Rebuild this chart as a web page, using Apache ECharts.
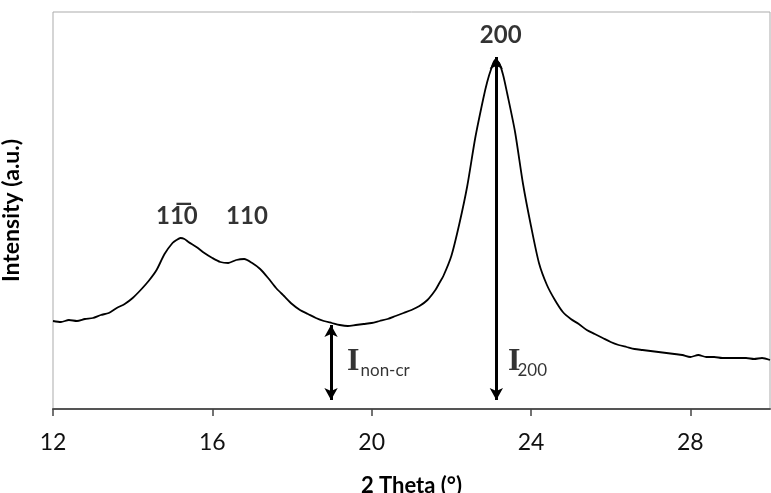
<!DOCTYPE html>
<html>
<head>
<meta charset="utf-8">
<script src="https://cdn.jsdelivr.net/npm/echarts@6/dist/echarts.min.js"></script>
<style>
html,body{margin:0;padding:0;background:#fff;}
#chart{width:771px;height:493px;}
</style>
</head>
<body>
<div id="chart"></div>
<script>
// ---- data ----
var theta = [12.0,12.2,12.4,12.6,12.8,13.0,13.2,13.4,13.6,13.8,14.0,14.2,14.4,14.6,14.8,15.0,15.1,15.2,15.3,15.4,15.6,15.8,16.0,16.2,16.4,16.6,16.8,17.0,17.2,17.4,17.6,17.8,18.0,18.2,18.4,18.6,18.8,19.0,19.2,19.4,19.6,19.8,20.0,20.2,20.4,20.6,20.8,21.0,21.2,21.4,21.6,21.7,21.8,22.0,22.2,22.4,22.6,22.8,22.9,23.0,23.1,23.2,23.3,23.4,23.6,23.8,24.0,24.2,24.4,24.6,24.8,25.0,25.2,25.4,25.6,25.8,26.0,26.2,26.4,26.6,26.8,27.0,27.2,27.4,27.6,27.8,28.0,28.2,28.4,28.6,28.8,29.0,29.2,29.4,29.6,29.8,30.0];
var intensity = [88,87,89,88,90,91,94,96,101,105,111,119,128,139,155,166,169,171,170,167,162,156,151,147,146,149,150,146,140,131,121,113,105,99,95,91,88,86,84,83,84,85,86,88,90,93,96,99,103,109,119,126,133,153,185,223,271,310,327,340,349,346,334,316,277,225,183,146,124,109,97,90,85,79,75,71,67,64,62,60,59,58,57,56,55,54,52,54,52,52,51,51,51,51,50,51,49];

var xMin = 12, xMax = 30, xStep = 4;
var yMin = 0, yMax = 397;

// reflection labels
var peakText = ['11\u03050', '110', '200'];
var peakX = [15.11, 16.87, 23.24];
var peakY = [193, 193, 374];

// arrows: [x, yTop, yBottom]
var arrowNonCr = [18.98, 84, 9];
var arrow200 = [23.13, 352, 9];

// intensity labels
var symText = ['I', 'I'];
var symX = [19.38, 23.42];
var symY = [47.5, 47.5];
var subText = ['non-cr', '200'];
var subX = [19.72, 23.66];
var subY = [38, 38];

var SANS = 'Lato, "Liberation Sans", sans-serif';
var SERIF = '"Liberation Serif", "DejaVu Serif", serif';

var lineData = theta.map(function (t, i) { return [t, intensity[i]]; });
var peakData = peakText.map(function (s, i) { return { value: [peakX[i], peakY[i]], name: s }; });
var symData = symText.map(function (s, i) { return { value: [symX[i], symY[i]], name: s }; });
var subData = subText.map(function (s, i) { return { value: [subX[i], subY[i]], name: s }; });

var chart = echarts.init(document.getElementById('chart'), null, { renderer: 'canvas' });
chart.setOption({
  animation: false,
  backgroundColor: '#ffffff',
  grid: { left: 53, right: 1, top: 12, bottom: 84, show: true, borderColor: '#ababab', borderWidth: 1, containLabel: false, outerBoundsMode: 'none' },
  xAxis: {
    type: 'value', min: xMin, max: xMax, interval: xStep,
    name: '2 Theta (°)', nameLocation: 'middle', nameGap: 66,
    nameTextStyle: { fontFamily: SANS, fontWeight: 'bold', fontSize: 22, color: '#000000' },
    axisLine: { show: true, lineStyle: { color: '#555555', width: 2 } },
    axisTick: { show: true, length: 7, lineStyle: { color: '#444444', width: 1.5 } },
    axisLabel: { margin: 22, fontFamily: SANS, fontSize: 23, color: '#111111', showMaxLabel: false },
    splitLine: { show: false }
  },
  yAxis: {
    type: 'value', min: yMin, max: yMax,
    name: 'Intensity (a.u.)', nameLocation: 'middle', nameGap: 30,
    nameTextStyle: { fontFamily: SANS, fontWeight: 'bold', fontSize: 23, color: '#000000' },
    axisLine: { show: false }, axisTick: { show: false }, axisLabel: { show: false }, splitLine: { show: false }
  },
  series: [
    {
      type: 'line', data: lineData, showSymbol: false, symbol: 'none', smooth: 0.25,
      lineStyle: { color: '#000000', width: 1.8 },
      z: 3,
      markLine: {
        silent: true, animation: false,
        symbol: ['arrow', 'arrow'], symbolSize: [10, 12],
        label: { show: false },
        lineStyle: { color: '#000000', width: 3, type: 'solid' },
        data: [
          [{ coord: [arrowNonCr[0], arrowNonCr[1]] }, { coord: [arrowNonCr[0], arrowNonCr[2]] }],
          [{ coord: [arrow200[0], arrow200[1]] }, { coord: [arrow200[0], arrow200[2]] }]
        ]
      }
    },
    {
      type: 'scatter', data: peakData, symbolSize: 0, silent: true,
      label: { show: true, position: 'inside', formatter: '{b}', fontFamily: SANS, fontWeight: 'bold', fontSize: 24, color: '#000000', align: 'center', verticalAlign: 'middle' }
    },
    {
      type: 'scatter', data: symData, symbolSize: 0, silent: true,
      label: { show: true, position: 'inside', formatter: '{b}', fontFamily: SERIF, fontWeight: 'bold', fontSize: 32, color: '#000000', align: 'left', verticalAlign: 'middle' }
    },
    {
      type: 'scatter', data: subData, symbolSize: 0, silent: true,
      label: { show: true, position: 'inside', formatter: '{b}', fontFamily: SANS, fontSize: 17, color: '#000000', align: 'left', verticalAlign: 'middle' }
    }
  ]
});
</script>
</body>
</html>
